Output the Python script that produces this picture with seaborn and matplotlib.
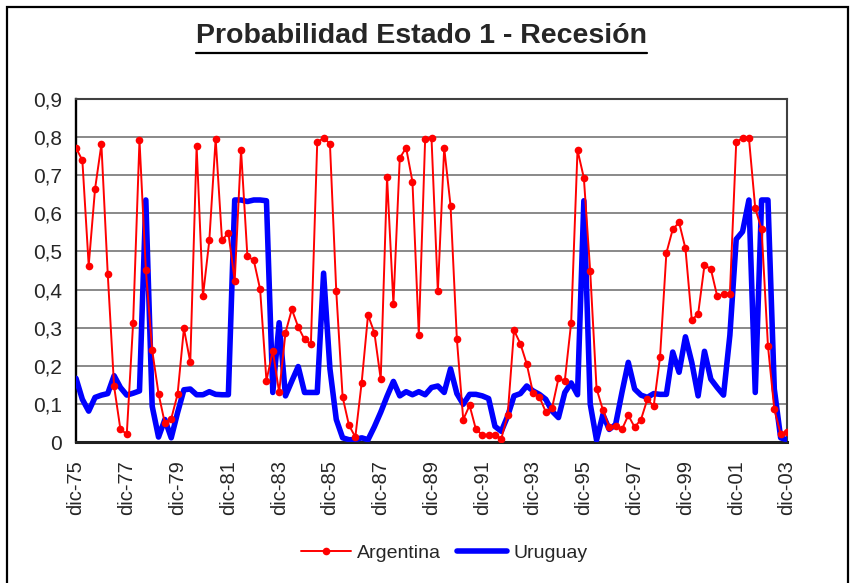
import numpy as np
import pandas as pd
import seaborn as sns
import matplotlib.pyplot as plt
from matplotlib.lines import Line2D
from matplotlib.patches import Rectangle

# probabilidad trimestral, dic-75 .. dic-03
argentina = [
    0.772, 0.739, 0.463, 0.664, 0.781, 0.441, 0.146, 0.033, 0.021, 0.313,
    0.792, 0.452, 0.241, 0.127, 0.049, 0.061, 0.125, 0.298, 0.209, 0.776,
    0.383, 0.529, 0.796, 0.529, 0.549, 0.423, 0.766, 0.487, 0.477, 0.401,
    0.161, 0.240, 0.130, 0.287, 0.348, 0.302, 0.269, 0.256, 0.786, 0.798,
    0.783, 0.395, 0.118, 0.044, 0.013, 0.156, 0.333, 0.287, 0.165, 0.695,
    0.362, 0.745, 0.772, 0.683, 0.282, 0.796, 0.798, 0.395, 0.772, 0.620,
    0.269, 0.059, 0.096, 0.033, 0.019, 0.019, 0.019, 0.009, 0.071, 0.293,
    0.258, 0.205, 0.128, 0.118, 0.079, 0.090, 0.167, 0.161, 0.313, 0.766,
    0.693, 0.448, 0.140, 0.084, 0.040, 0.042, 0.033, 0.070, 0.039, 0.059,
    0.112, 0.094, 0.223, 0.496, 0.558, 0.576, 0.508, 0.320, 0.336, 0.464,
    0.454, 0.383, 0.388, 0.388, 0.786, 0.798, 0.798, 0.613, 0.558, 0.252,
    0.086, 0.021, 0.026,
]
uruguay = [
    0.167, 0.112, 0.081, 0.117, 0.123, 0.127, 0.174, 0.143, 0.123, 0.128,
    0.134, 0.635, 0.094, 0.013, 0.059, 0.011, 0.077, 0.137, 0.139, 0.124,
    0.124, 0.132, 0.125, 0.124, 0.124, 0.635, 0.635, 0.631, 0.635, 0.635,
    0.633, 0.130, 0.313, 0.121, 0.160, 0.198, 0.130, 0.130, 0.130, 0.443,
    0.192, 0.059, 0.011, 0.006, 0.006, 0.011, 0.006, 0.040, 0.078, 0.120,
    0.159, 0.121, 0.132, 0.124, 0.132, 0.124, 0.143, 0.147, 0.130, 0.192,
    0.127, 0.099, 0.125, 0.125, 0.121, 0.114, 0.041, 0.028, 0.068, 0.121,
    0.127, 0.147, 0.134, 0.125, 0.112, 0.081, 0.064, 0.130, 0.155, 0.124,
    0.633, 0.100, 0.005, 0.072, 0.033, 0.046, 0.130, 0.209, 0.139, 0.123,
    0.117, 0.127, 0.125, 0.125, 0.236, 0.183, 0.276, 0.209, 0.121, 0.238,
    0.165, 0.143, 0.123, 0.280, 0.532, 0.552, 0.635, 0.130, 0.635, 0.635,
    0.139, 0.011, 0.006,
]
tick_labels = ["dic-75", "dic-77", "dic-79", "dic-81", "dic-83", "dic-85", "dic-87",
               "dic-89", "dic-91", "dic-93", "dic-95", "dic-97", "dic-99", "dic-01",
               "dic-03"]
y_ticks = [0, 0.1, 0.2, 0.3, 0.4, 0.5, 0.6, 0.7, 0.8, 0.9]
y_tick_labels = ["0", "0,1", "0,2", "0,3", "0,4", "0,5", "0,6", "0,7", "0,8", "0,9"]

df = pd.DataFrame({
    "trimestre": np.arange(len(argentina)),
    "Argentina": argentina,
    "Uruguay": uruguay,
})

sns.set_style("white")
plt.rcParams["font.family"] = ["Liberation Sans", "DejaVu Sans"]

W, H = 855, 583
fig = plt.figure(figsize=(W / 100, H / 100), dpi=100)
ax = fig.add_axes([76 / W, 1 - 442 / H, (787 - 76) / W, (442 - 99) / H])

sns.lineplot(data=df, x="trimestre", y="Uruguay", color="#0000FF", lw=4,
             ax=ax, label="Uruguay", zorder=3)
sns.lineplot(data=df, x="trimestre", y="Argentina", color="#FF0000", lw=1.4,
             marker="o", markersize=5.5, markeredgewidth=0, ax=ax,
             label="Argentina", zorder=4)

ax.set_xlim(0, len(argentina) - 1)
ax.set_ylim(0, 0.9)
ax.set_xticks(np.arange(0, len(argentina), 8))
ax.set_xticklabels(tick_labels, rotation=90, fontsize=14.5)
ax.set_yticks(y_ticks)
ax.set_yticklabels(y_tick_labels, fontsize=15)
ax.set_xlabel("")
ax.set_ylabel("")
ax.tick_params(axis="x", direction="out", length=5, width=1.2, pad=8, color="black")
ax.tick_params(axis="y", direction="out", length=5, width=1.2, pad=5, color="black")
ax.yaxis.grid(True, color="#808080", lw=1.3)
ax.xaxis.grid(False)
ax.set_axisbelow(True)

ax.spines["left"].set_color("black")
ax.spines["left"].set_linewidth(1.7)
ax.spines["bottom"].set_color("#202020")
ax.spines["bottom"].set_linewidth(2.2)
for s in ["top", "right"]:
    ax.spines[s].set_color("#404040")
    ax.spines[s].set_linewidth(1.5)

handles, labels = ax.get_legend_handles_labels()
ax.get_legend().remove()
fig.legend(handles[::-1], labels[::-1], loc="center", bbox_to_anchor=(444 / W, 1 - 553 / H),
           ncol=2, frameon=False, fontsize=14, handlelength=2.6, handletextpad=0.3,
           columnspacing=0.8)

title = fig.text(421 / W, 1 - 43.3 / H, "Probabilidad Estado 1 - Recesión",
                 ha="center", va="baseline", fontsize=20.5, fontweight="bold")

# subrayado del titulo
fig.canvas.draw()
bb = title.get_window_extent().transformed(fig.transFigure.inverted())
fig.add_artist(Line2D([bb.x0, bb.x1], [1 - 52.7 / H, 1 - 52.7 / H],
                      transform=fig.transFigure, color="black", lw=1.6))

# borde del area del grafico
fig.add_artist(Rectangle((7 / W, -0.05), (848 - 7) / W, 1.05 - 7 / H,
                         transform=fig.transFigure, fill=False, ec="black", lw=1.6))

fig.savefig("out.png", dpi=100)
